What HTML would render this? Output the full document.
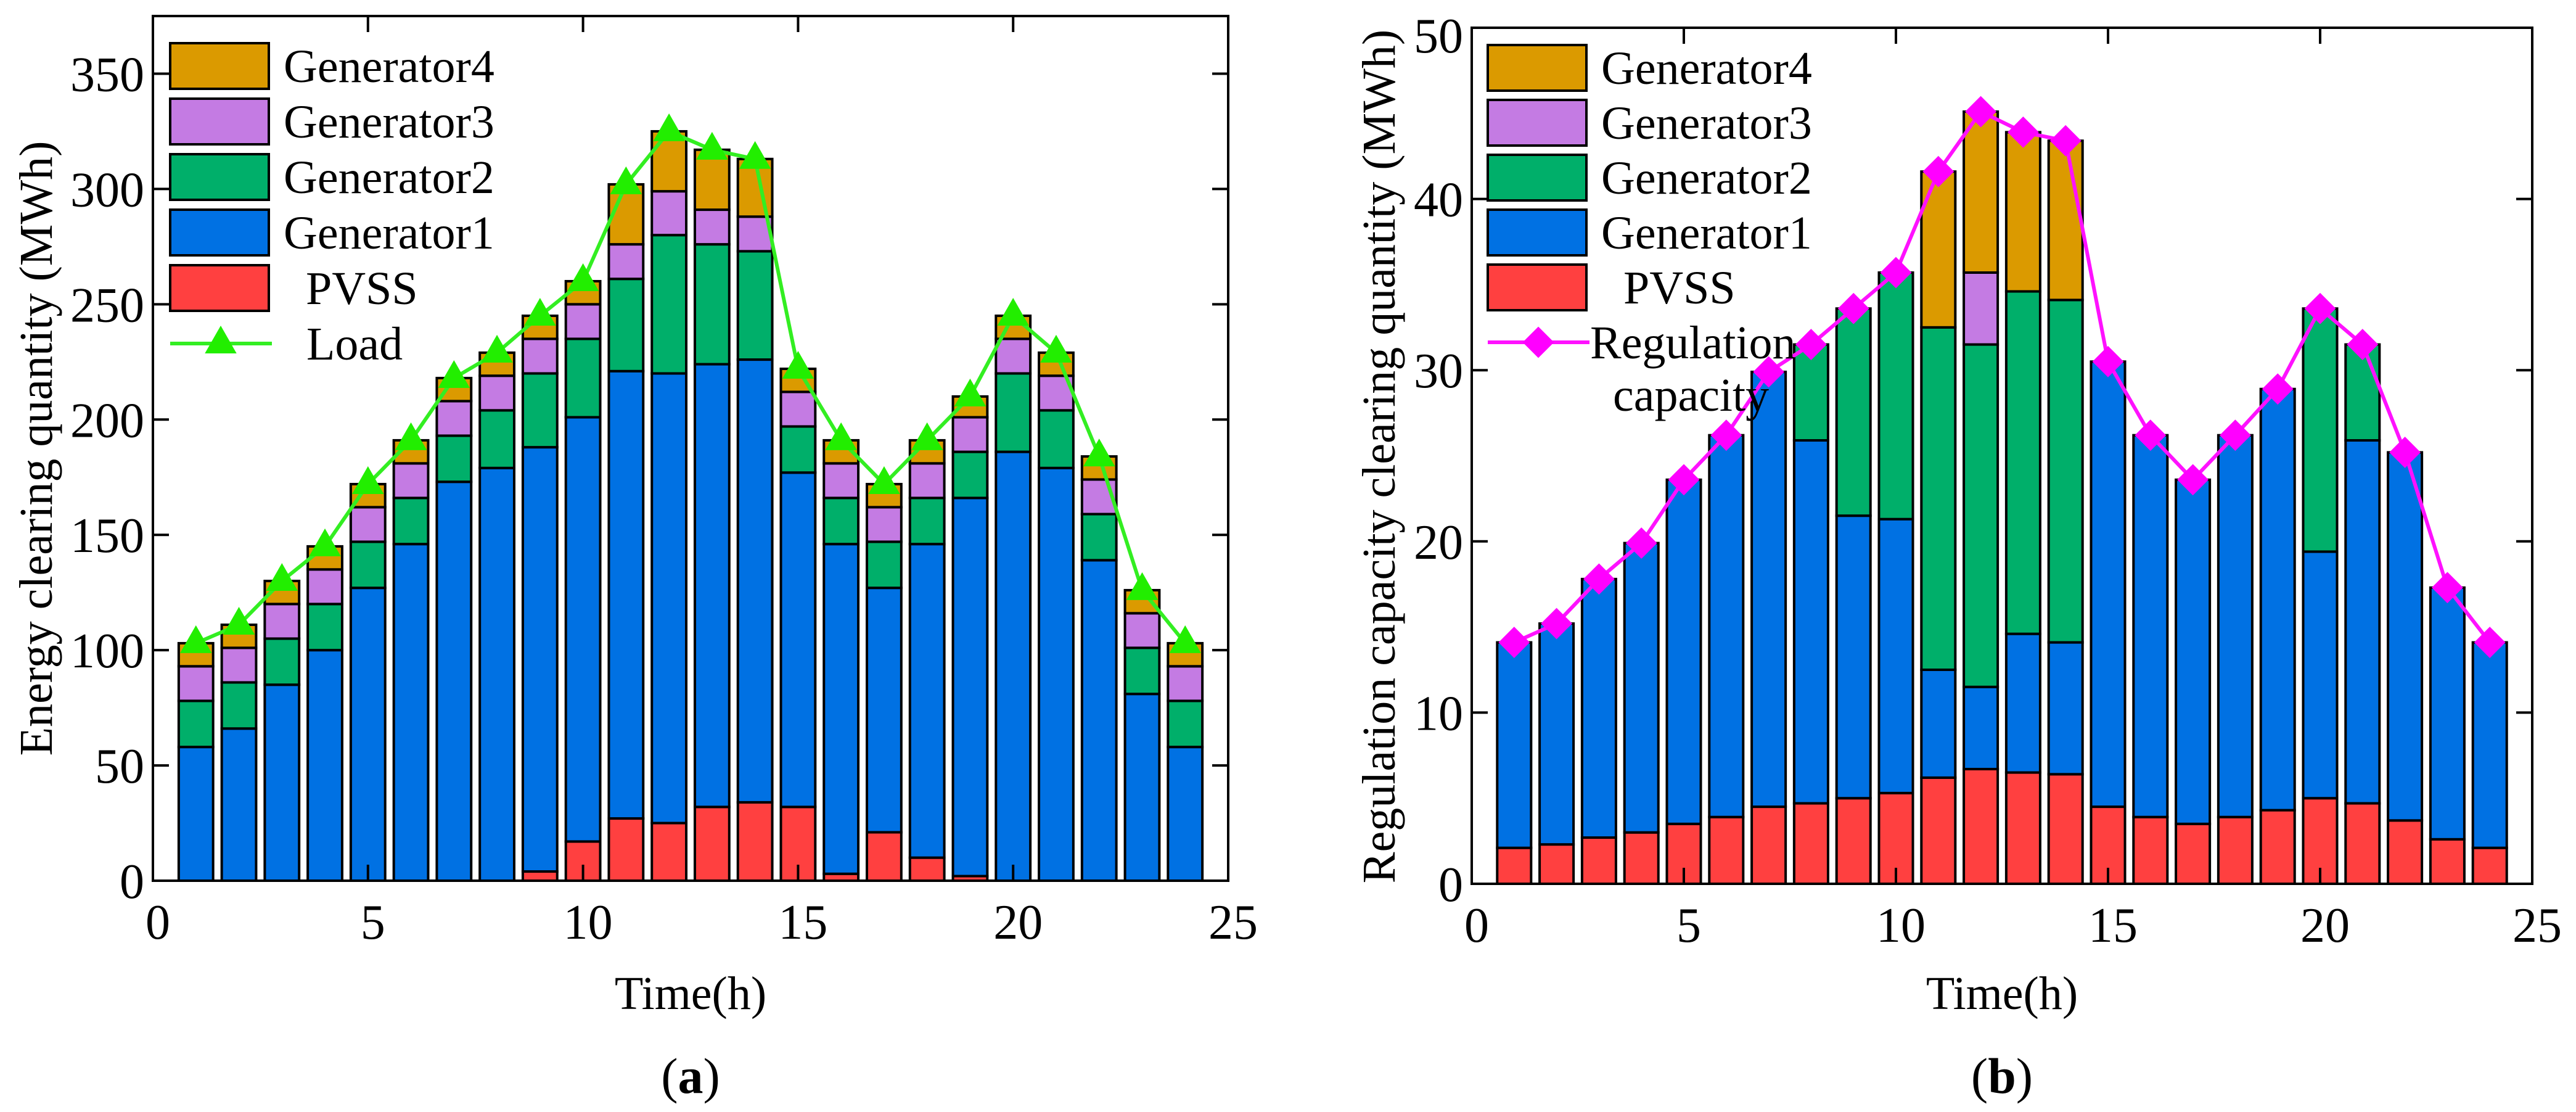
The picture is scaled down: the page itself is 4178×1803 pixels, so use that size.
<!DOCTYPE html>
<html><head><meta charset="utf-8"><style>
html,body{margin:0;padding:0;background:#fff;}
svg{display:block;}
svg text{font-family:"Liberation Serif","DejaVu Serif",serif;fill:#000;}
</style></head><body>
<svg id="fig" width="4178" height="1803" viewBox="0 0 4178 1803" xmlns="http://www.w3.org/2000/svg" font-family="Liberation Serif, serif">
<rect width="4178" height="1803" fill="#fff"/>
<g id="chartA"></g>
<g id="chartB"></g>
<text x="0" y="0" font-size="76" text-anchor="middle" transform="translate(84,727) rotate(-90)">Energy clearing quantity (MWh)</text>
<text x="0" y="0" font-size="76" text-anchor="middle" transform="translate(2262,740) rotate(-90)">Regulation capacity clearing quantity (MWh)</text>
<text x="1120" y="1636" font-size="76" text-anchor="middle">Time(h)</text>
<text x="3247" y="1636" font-size="76" text-anchor="middle">Time(h)</text>
<text x="1120" y="1772" font-size="82" text-anchor="middle">(<tspan font-weight="bold">a</tspan>)</text>
<text x="3247" y="1772" font-size="82" text-anchor="middle">(<tspan font-weight="bold">b</tspan>)</text>
</svg>
<script>
// ---- Chart (a) data ----
const hoursA = [1,2,3,4,5,6,7,8,9,10,11,12,13,14,15,16,17,18,19,20,21,22,23,24];
const pvssA = [0,0,0,0,0,0,0,0,4,17,27,25,32,34,32,3,21,10,2,0,0,0,0,0];
const gen1A = [58,66,85,100,127,146,173,179,184,184,194,195,192,192,145,143,106,136,164,186,179,139,81,58];
const gen2A = [20,20,20,20,20,20,20,25,32,34,40,60,52,47,20,20,20,20,20,34,25,20,20,20];
const gen3A = [15,15,15,15,15,15,15,15,15,15,15,19,15,15,15,15,15,15,15,15,15,15,15,15];
const gen4A = [10,10,10,10,10,10,10,10,10,10,26,26,26,25,10,10,10,10,9,10,10,10,10,10];
const loadA = [103,111,130,145,172,191,218,229,245,260,302,325,317,313,222,191,172,191,210,245,229,184,126,103];
const yTicksA = [0,50,100,150,200,250,300,350];
const xTicks = [0,5,10,15,20,25];
// ---- Chart (b) data ----
const hoursB = [1,2,3,4,5,6,7,8,9,10,11,12,13,14,15,16,17,18,19,20,21,22,23,24];
const pvssB = [2.1,2.3,2.7,3.0,3.5,3.9,4.5,4.7,5.0,5.3,6.2,6.7,6.5,6.4,4.5,3.9,3.5,3.9,4.3,5.0,4.7,3.7,2.6,2.1];
const gen1B = [12.0,12.9,15.1,16.9,20.1,22.3,25.4,21.2,16.5,16.0,6.3,4.8,8.1,7.7,26.0,22.3,20.1,22.3,24.6,14.4,21.2,21.5,14.7,12.0];
const gen2B = [0,0,0,0,0,0,0,5.6,12.1,14.4,20.0,20.0,20.0,20.0,0,0,0,0,0,14.2,5.6,0,0,0];
const gen3B = [0,0,0,0,0,0,0,0,0,0,0,4.2,0,0,0,0,0,0,0,0,0,0,0,0];
const gen4B = [0,0,0,0,0,0,0,0,0,0,9.1,9.4,9.3,9.3,0,0,0,0,0,0,0,0,0,0];
const regB = [14.1,15.2,17.8,19.9,23.6,26.2,29.9,31.5,33.6,35.7,41.6,45.1,43.9,43.4,30.5,26.2,23.6,26.2,28.9,33.6,31.5,25.2,17.3,14.1];
const yTicksB = [0,10,20,30,40,50];

const NS = "http://www.w3.org/2000/svg";
const COLORS = {pvss:"#ff4040", g1:"#0071e3", g2:"#00af6a", g3:"#c47be3", g4:"#db9a00"};

function mk(parent, tag, attrs){
  const e = document.createElementNS(NS, tag);
  for (const k in attrs) e.setAttribute(k, attrs[k]);
  parent.appendChild(e);
  return e;
}

function drawMarker(g, type, x, y, color){
  if (type === "tri") {
    return mk(g, "polygon", {points: `${x},${y-27} ${x-24},${y+15} ${x+24},${y+15}`, fill: color, stroke: color, "stroke-width":2});
  }
  return mk(g, "polygon", {points: `${x},${y-24} ${x+24},${y} ${x},${y+24} ${x-24},${y}`, fill: color, stroke: color, "stroke-width":2});
}

function drawChart(g, cfg){
  const xs = v => cfg.left + v / 25 * (cfg.right - cfg.left);
  const ys = v => cfg.bottom - v / cfg.ymax * (cfg.bottom - cfg.top);
  const bw = 0.8 * (cfg.right - cfg.left) / 25;
  const series = [["pvss",cfg.pvss],["g1",cfg.g1],["g2",cfg.g2],["g3",cfg.g3],["g4",cfg.g4]];
  cfg.hours.forEach((h, i) => {
    let base = 0;
    series.forEach(([key, arr]) => {
      const v = arr[i];
      if (v > 0) {
        const r = mk(g, "rect", {x: xs(h) - bw/2, y: ys(base + v), width: bw, height: ys(base) - ys(base + v), fill: COLORS[key], stroke:"#000", "stroke-width":4});
        
        
      }
      base += v;
    });
  });
  const pts = cfg.hours.map((h, i) => xs(h) + "," + ys(cfg.line[i])).join(" ");
  const pl = mk(g, "polyline", {points: pts, fill:"none", stroke: cfg.lineColor, "stroke-width":6});
  
  
  cfg.hours.forEach((h, i) => {
    const m = drawMarker(g, cfg.marker, xs(h), ys(cfg.line[i]), cfg.markerColor);
    
    
  });
  const fr = mk(g, "rect", {x: cfg.left, y: cfg.top, width: cfg.right - cfg.left, height: cfg.bottom - cfg.top, fill:"none", stroke:"#000", "stroke-width":4});
  
  
  xTicks.forEach(t => {
    const x = xs(t);
    if (t > 0 && t < 25) {
      mk(g, "line", {x1:x, x2:x, y1:cfg.bottom, y2:cfg.bottom-26, stroke:"#000","stroke-width":4});
      mk(g, "line", {x1:x, x2:x, y1:cfg.top, y2:cfg.top+26, stroke:"#000","stroke-width":4});
    }
    const tl = mk(g, "text", {x: x + 8, y: cfg.bottom + 94, "font-size":80, "text-anchor":"middle"});
    tl.textContent = t;
    
    
  });
  cfg.yticks.forEach(t => {
    const y = ys(t);
    if (t > 0 && t < cfg.ymax) {
      mk(g, "line", {x1:cfg.left, x2:cfg.left+26, y1:y, y2:y, stroke:"#000","stroke-width":4});
      mk(g, "line", {x1:cfg.right, x2:cfg.right-26, y1:y, y2:y, stroke:"#000","stroke-width":4});
    }
    const tl = mk(g, "text", {x: cfg.left - 14, y: y + 28 + (t === cfg.ymax ? 12 : 0), "font-size":80, "text-anchor":"end"});
    tl.textContent = t;
    
    
  });
  const names = [["g4","Generator4"],["g3","Generator3"],["g2","Generator2"],["g1","Generator1"],["pvss","PVSS"]];
  names.forEach(([key, label], k) => {
    const cy = cfg.legTop + k * cfg.legPitch;
    const r = mk(g, "rect", {x: cfg.legX, y: cy - 37, width: 160, height: 74, fill: COLORS[key], stroke:"#000","stroke-width":4});
    
    
    const t = mk(g, "text", {x: cfg.legX + (key === "pvss" ? 220 : 184), y: cy + 26, "font-size":76});
    t.textContent = label;
    
    
  });
  const ly = cfg.legTop + 5 * cfg.legPitch;
  const ll = mk(g, "line", {x1: cfg.legX, x2: cfg.legX + 165, y1: ly, y2: ly, stroke: cfg.lineColor, "stroke-width":6});
  
  
  const lm = drawMarker(g, cfg.marker, cfg.legX + 82, ly, cfg.markerColor);
  
  
  cfg.lineLabel.forEach((s, k) => {
    const t = mk(g, "text", {x: cfg.lineLabelX[k], y: ly + 26 + k * 85, "font-size":76});
    t.textContent = s;
    
    
  });
}

drawChart(document.getElementById("chartA"), {
  left:248, right:1992, top:26, bottom:1428, ymax:375,
  hours:hoursA, pvss:pvssA, g1:gen1A, g2:gen2A, g3:gen3A, g4:gen4A,
  line:loadA, lineColor:"#33ee22", markerColor:"#22ee00", marker:"tri", lineName:"load",
  yticks:yTicksA, legX:276, legTop:107, legPitch:90,
  lineLabel:["Load"], lineLabelX:[497]
});
drawChart(document.getElementById("chartB"), {
  left:2387, right:4107, top:45, bottom:1433, ymax:50,
  hours:hoursB, pvss:pvssB, g1:gen1B, g2:gen2B, g3:gen3B, g4:gen4B,
  line:regB, lineColor:"#ff11ff", markerColor:"#ff00ff", marker:"dia", lineName:"regulation-capacity",
  yticks:yTicksB, legX:2413, legTop:110, legPitch:89,
  lineLabel:["Regulation","capacity"], lineLabelX:[2579,2616]
});
</script>
</body></html>
